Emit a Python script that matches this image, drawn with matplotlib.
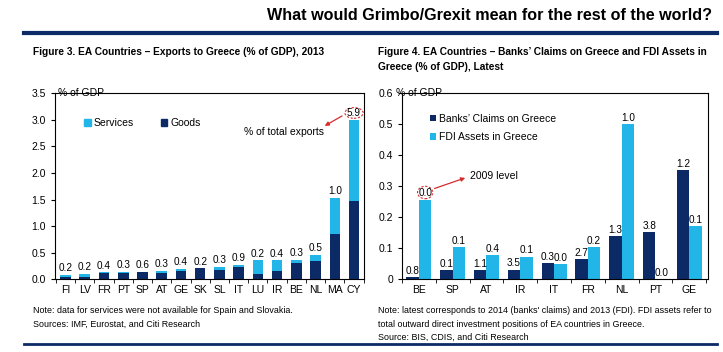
import matplotlib.pyplot as plt
import matplotlib.patches as mpatches
import numpy as np

plt.rcParams['font.family'] = ['Liberation Sans Narrow', 'Liberation Sans', 'DejaVu Sans']

# =============================================================================
# Data
# =============================================================================
exp_countries = ["FI", "LV", "FR", "PT", "SP", "AT", "GE", "SK", "SL", "IT",
                 "LU", "IR", "BE", "NL", "MA", "CY"]
exp_goods = [0.05, 0.04, 0.11, 0.11, 0.145, 0.12, 0.16, 0.21, 0.18, 0.24,
             0.10, 0.16, 0.31, 0.35, 0.85, 1.47]
exp_services = [0.03, 0.06, 0.02, 0.03, 0.0, 0.04, 0.04, 0.0, 0.05, 0.03,
                0.26, 0.20, 0.06, 0.11, 0.68, 1.53]
exp_share = ["0.2", "0.2", "0.4", "0.3", "0.6", "0.3", "0.4", "0.2", "0.3", "0.9",
             "0.2", "0.4", "0.3", "0.5", "1.0", "5.9"]

fin_countries = ["BE", "SP", "AT", "IR", "IT", "FR", "NL", "PT", "GE"]
bank_claims = [0.008, 0.03, 0.03, 0.031, 0.051, 0.065, 0.14, 0.152, 0.352]
fdi_assets = [0.257, 0.105, 0.078, 0.073, 0.048, 0.105, 0.5, 0.0, 0.171]
bank_labels = ["0.8", "0.1", "1.1", "3.5", "0.3", "2.7", "1.3", "3.8", "1.2"]
fdi_labels = ["0.0", "0.1", "0.4", "0.1", "0.0", "0.2", "1.0", "0.0", "0.1"]

navy = "#0B2A66"
cyan = "#22B5E8"
red = "#D62B2B"

fig = plt.figure(figsize=(7.23, 3.52), dpi=100)

# header
fig.text(0.985, 0.955, "What would Grimbo/Grexit mean for the rest of the world?",
         ha="right", va="center", fontsize=11.6, fontweight="bold",
         family=["Liberation Sans", "DejaVu Sans"])
fig.add_artist(plt.Line2D([0.033, 0.992], [0.905, 0.905], color=navy, lw=3))
fig.add_artist(plt.Line2D([0.033, 0.992], [0.022, 0.022], color=navy, lw=2))

fig.text(0.045, 0.852, "Figure 3. EA Countries \u2013 Exports to Greece (% of GDP), 2013",
         fontsize=7.3, fontweight="bold", va="center")
fig.text(0.523, 0.852, "Figure 4. EA Countries \u2013 Banks\u2019 Claims on Greece and FDI Assets in",
         fontsize=7.3, fontweight="bold", va="center")
fig.text(0.523, 0.81, "Greece (% of GDP), Latest",
         fontsize=7.3, fontweight="bold", va="center")

fig.text(0.045, 0.117, "Note: data for services were not available for Spain and Slovakia.",
         fontsize=6.4, va="center")
fig.text(0.045, 0.079, "Sources: IMF, Eurostat, and Citi Research", fontsize=6.4, va="center")
fig.text(0.523, 0.117, "Note: latest corresponds to 2014 (banks' claims) and 2013 (FDI). FDI assets refer to",
         fontsize=6.4, va="center")
fig.text(0.523, 0.079, "total outward direct investment positions of EA countries in Greece.",
         fontsize=6.4, va="center")
fig.text(0.523, 0.041, "Source: BIS, CDIS, and Citi Research", fontsize=6.4, va="center")

# =============================================================================
# Figure 3
# =============================================================================
ax1 = fig.add_axes([0.076, 0.2065, 0.427, 0.5285])
x = np.arange(len(exp_countries))
ax1.bar(x, exp_goods, 0.55, color=navy, label="Goods")
ax1.bar(x, exp_services, 0.55, bottom=exp_goods, color=cyan, label="Services")
for i in range(len(x)):
    top = exp_goods[i] + exp_services[i]
    ax1.text(x[i], top + 0.03, exp_share[i], ha="center", va="bottom", fontsize=7.2)
ax1.set_xlim(-0.55, 15.5)
ax1.set_ylim(0, 3.5)
ax1.set_yticks(np.arange(0, 3.51, 0.5))
ax1.set_yticklabels(["%.1f" % v for v in np.arange(0, 3.51, 0.5)])
ax1.set_xticks(x)
ax1.set_xticklabels(exp_countries)
ax1.set_xticks(np.arange(-0.5, 15.6, 1), minor=True)
ax1.tick_params(axis="x", which="major", length=0, labelsize=7.5, pad=4)
ax1.tick_params(axis="x", which="minor", length=3)
ax1.tick_params(axis="y", labelsize=7.5, length=3)
ax1.text(0.01, 1.0, "% of GDP", transform=ax1.transAxes, fontsize=7.5, va="center")
h = [mpatches.Patch(color=cyan), mpatches.Patch(color=navy)]
ax1.legend(h, ["Services", "Goods"], loc="upper left", bbox_to_anchor=(0.065, 0.915),
           ncol=2, frameon=False, fontsize=7.5, handlelength=0.6, handleheight=0.6,
           handletextpad=0.3, columnspacing=2.6)
ax1.add_patch(mpatches.Ellipse((15, 3.13), 0.95, 0.2, fill=False, ec=red,
                               ls=(0, (2, 1.5)), lw=0.8))
ax1.annotate("", xy=(13.35, 2.86), xytext=(14.5, 3.1),
             arrowprops=dict(arrowstyle="-|>", color=red, lw=0.9, mutation_scale=6))
ax1.text(9.3, 2.77, "% of total exports", ha="left", va="center", fontsize=7.5)

# =============================================================================
# Figure 4
# =============================================================================
ax2 = fig.add_axes([0.556, 0.2065, 0.423, 0.5285])
x2 = np.arange(len(fin_countries))
w = 0.37
ax2.bar(x2 - w / 2, bank_claims, w, color=navy, label="Banks\u2019 Claims on Greece")
ax2.bar(x2 + w / 2, fdi_assets, w, color=cyan, label="FDI Assets in Greece")
for i in range(len(x2)):
    ax2.text(x2[i] - w / 2, bank_claims[i] + 0.004, bank_labels[i], ha="center",
             va="bottom", fontsize=7.2)
    ax2.text(x2[i] + w / 2, fdi_assets[i] + 0.004, fdi_labels[i], ha="center",
             va="bottom", fontsize=7.2)
ax2.set_xlim(-0.45, 8.55)
ax2.set_ylim(0, 0.6)
ax2.set_yticks(np.arange(0, 0.61, 0.1))
ax2.set_yticklabels(["0"] + ["%.1f" % v for v in np.arange(0.1, 0.61, 0.1)])
ax2.set_xticks(x2)
ax2.set_xticklabels(fin_countries)
ax2.set_xticks(np.arange(-0.5, 8.6, 1), minor=True)
ax2.tick_params(axis="x", which="major", length=0, labelsize=7.5, pad=4)
ax2.tick_params(axis="x", which="minor", length=3)
ax2.tick_params(axis="y", labelsize=7.5, length=3)
ax2.text(-0.02, 1.0, "% of GDP", transform=ax2.transAxes, fontsize=7.5, va="center")
ax2.legend(loc="upper left", bbox_to_anchor=(0.06, 0.94), frameon=False,
           fontsize=7.5, handlelength=0.6, handleheight=0.6, handletextpad=0.3,
           labelspacing=0.8)
ax2.add_patch(mpatches.Ellipse((x2[0] + w / 2, 0.28), 0.45, 0.04, fill=False, ec=red,
                               ls=(0, (2, 1.5)), lw=0.8))
ax2.annotate("", xy=(1.45, 0.33), xytext=(x2[0] + w / 2 + 0.2, 0.29),
             arrowprops=dict(arrowstyle="-|>", color=red, lw=0.9, mutation_scale=6))
ax2.text(1.5, 0.332, "2009 level", ha="left", va="center", fontsize=7.5)

plt.savefig("out.png", dpi=100)
